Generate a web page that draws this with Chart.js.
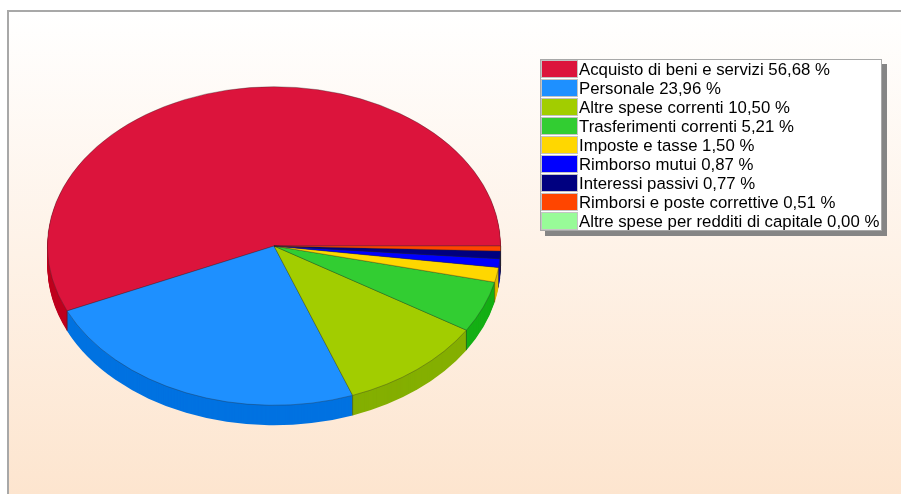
<!DOCTYPE html>
<html>
<head>
<meta charset="utf-8">
<title>Spese</title>
<style>
html, body { margin: 0; padding: 0; background: #fff; overflow: hidden; }
#wrap { width: 901px; height: 494px; }
</style>
<script src="https://cdn.jsdelivr.net/npm/chart.js@4/dist/chart.umd.min.js"></script>
</head>
<body>
<div id="wrap"><canvas id="pieChart" width="901" height="494"></canvas></div>
<script>
const categories = [
    "Acquisto di beni e servizi", "Personale", "Altre spese correnti",
    "Trasferimenti correnti", "Imposte e tasse", "Rimborso mutui",
    "Interessi passivi", "Rimborsi e poste correttive",
    "Altre spese per redditi di capitale"
];
const shares = [56.68, 23.96, 10.50, 5.21, 1.50, 0.87, 0.77, 0.51, 0.00];
const topColors = ["#DC143C", "#1E90FF", "#A2CD00", "#32CD32", "#FFD700", "#0000FF", "#000080", "#FF4500", "#98FB98"];
const wallColors = ["#BE001E", "#0072E1", "#84AF00", "#14AF14", "#E1B900", "#0000E1", "#000062", "#E12700", "#7ADD7A"];

const squash = 0.703;   // flat look of the pie
const depth = 20;

// same squash for walls and top, y flipped so slices run counter-clockwise
function pieTransform(ctx, x, y, drop) {
    ctx.translate(x, y + drop);
    ctx.scale(1, -squash);
    ctx.translate(-x, -y);
}

const pie3d = {
    id: "pie3d",
    beforeDraw(chart) {
        const ctx = chart.ctx;
        const grad = ctx.createLinearGradient(0, 12, 0, 494);
        grad.addColorStop(0, "#FFFFFF");
        grad.addColorStop(1, "#FDE5CF");
        ctx.save();
        ctx.fillStyle = "#FFFFFF";
        ctx.fillRect(0, 0, 901, 494);
        ctx.fillStyle = grad;
        ctx.fillRect(8, 11, 893, 483);
        ctx.fillStyle = "#A8A8A8";
        ctx.fillRect(7, 10, 894, 2);
        ctx.fillRect(7, 10, 2, 484);
        ctx.restore();
    },
    beforeDatasetsDraw(chart) {
        const ctx = chart.ctx;
        const arcs = chart.getDatasetMeta(0).data;
        const cx = arcs[0].x, cy = arcs[0].y, r = arcs[0].outerRadius;

        for (let d = depth; d >= 1; d--) {
            ctx.save();
            pieTransform(ctx, cx, cy, d);
            arcs.forEach((arc, i) => {
                ctx.fillStyle = wallColors[i];
                ctx.beginPath();
                ctx.moveTo(cx, cy);
                ctx.arc(cx, cy, r, arc.startAngle, arc.endAngle);
                ctx.closePath();
                ctx.fill();
            });
            ctx.restore();
        }

        // edges between wall pieces, only on the front half
        ctx.save();
        ctx.strokeStyle = "rgba(40,40,40,0.45)";
        ctx.lineWidth = 1;
        arcs.forEach((arc) => {
            const a = arc.endAngle;
            if (Math.sin(a) < 0) {
                const px = cx + r * Math.cos(a);
                const py = cy - squash * r * Math.sin(a);
                ctx.beginPath();
                ctx.moveTo(px, py);
                ctx.lineTo(px, py + depth);
                ctx.stroke();
            }
        });
        ctx.restore();

        ctx.save();
        pieTransform(ctx, cx, cy, 0);
    },
    afterDatasetsDraw(chart) {
        chart.ctx.restore();
    },
    afterDraw(chart) {
        const ctx = chart.ctx;
        const left = 540, top = 59, width = 342, rowH = 19;
        const height = rowH * categories.length + 1;
        ctx.save();
        ctx.fillStyle = "#858585";
        ctx.fillRect(left + 5, top + 5, width, height);
        ctx.fillStyle = "#FFFFFF";
        ctx.fillRect(left, top, width, height);
        ctx.strokeStyle = "#A8A8A8";
        ctx.lineWidth = 1;
        ctx.strokeRect(left + 0.5, top + 0.5, width - 1, height - 1);

        ctx.beginPath();
        ctx.rect(left, top, width, height - 1);
        ctx.clip();
        ctx.font = "16.8px 'Liberation Sans'";
        ctx.textBaseline = "alphabetic";
        categories.forEach((name, i) => {
            const y = top + 1 + i * rowH;
            ctx.fillStyle = topColors[i];
            ctx.fillRect(left + 1, y, 37, rowH - 1);
            ctx.strokeStyle = "#C4C4C4";
            ctx.strokeRect(left + 1.5, y + 0.5, 36, rowH - 2);
            ctx.fillStyle = "#000000";
            ctx.fillText(name + " " + shares[i].toFixed(2).replace(".", ",") + " %", 579, y + 14.5);
        });
        ctx.restore();
    }
};

new Chart(document.getElementById("pieChart"), {
    type: "pie",
    data: {
        labels: categories,
        datasets: [{
            data: shares,
            backgroundColor: topColors,
            borderColor: "rgba(40,40,40,0.5)",
            borderWidth: 0.8,
            clip: false
        }]
    },
    options: {
        responsive: false,
        maintainAspectRatio: false,
        animation: false,
        rotation: 90,
        layout: { padding: { left: 47, right: 400, top: 19, bottom: 21 } },
        plugins: { legend: { display: false }, title: { display: false }, tooltip: { enabled: false } }
    },
    plugins: [pie3d]
});
</script>
</body>
</html>
